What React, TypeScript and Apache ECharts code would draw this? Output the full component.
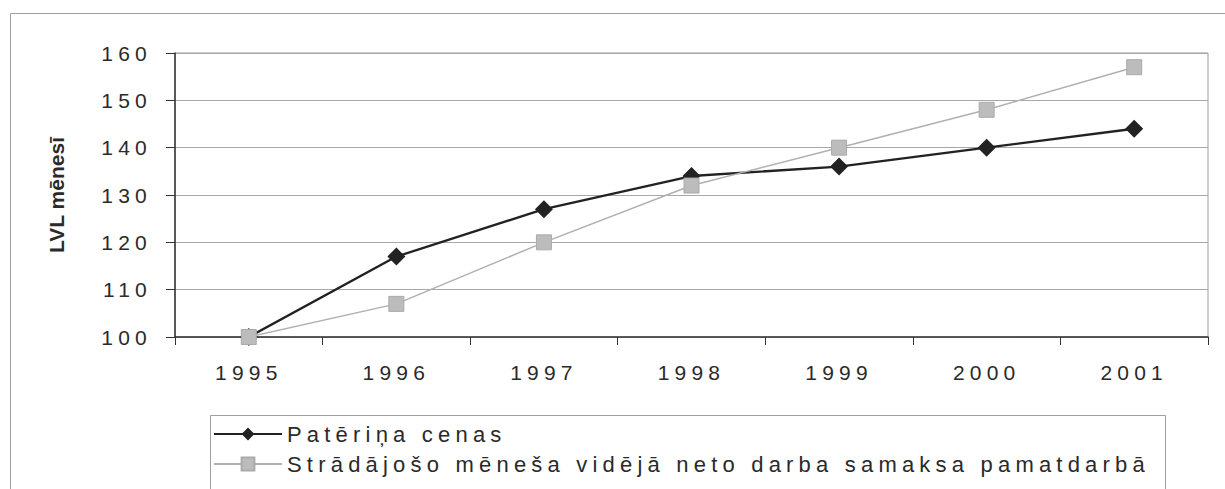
import React, { useEffect, useRef } from "react";
import * as echarts from "echarts";

const years = ["1995", "1996", "1997", "1998", "1999", "2000", "2001"];
const consumerPrices = [100, 117, 127, 134, 136, 140, 144];
const netWages = [100, 107, 120, 132, 140, 148, 157];
const seriesNames = [
  "Patēriņa cenas",
  "Strādājošo mēneša vidējā neto darba samaksa pamatdarbā",
];
const yAxisTitle = "LVL mēnesī";

const FONT = "'Liberation Sans', Arial, sans-serif";

export default function App() {
  const ref = useRef<HTMLDivElement>(null);
  useEffect(() => {
    if (!ref.current) return;
    const chart = echarts.init(ref.current, undefined, { renderer: "svg" });
    chart.setOption({
      animation: false,
      backgroundColor: "#fff",
      textStyle: { fontFamily: FONT },
      grid: {
        left: 175,
        right: 17,
        top: 53,
        bottom: 152,
        show: true,
        borderColor: "#9a9a9a",
        borderWidth: 1,
      },
      xAxis: {
        type: "category",
        data: years,
        boundaryGap: true,
        axisLine: { lineStyle: { color: "#333", width: 1.5 } },
        axisTick: { show: true, length: 8, lineStyle: { color: "#333" } },
        axisLabel: { color: "#2a2a2a", fontSize: 21, fontFamily: FONT, margin: 25 },
      },
      yAxis: {
        type: "value",
        min: 100,
        max: 160,
        interval: 10,
        name: yAxisTitle,
        nameLocation: "middle",
        nameRotate: 90,
        nameGap: 108,
        nameTextStyle: {
          fontWeight: "bold",
          fontSize: 21,
          color: "#2a2a2a",
          fontFamily: FONT,
        },
        axisLine: { show: true, lineStyle: { color: "#333", width: 1.5 } },
        axisTick: { show: true, length: 9, lineStyle: { color: "#333" } },
        axisLabel: { color: "#2a2a2a", fontSize: 21, fontFamily: FONT, margin: 23 },
        splitLine: { lineStyle: { color: "#a8a8a8", width: 1 } },
      },
      legend: {
        orient: "vertical",
        left: 208,
        top: 418,
        itemWidth: 68,
        itemHeight: 16,
        itemGap: 8,
        textStyle: { fontSize: 22, color: "#2a2a2a", fontFamily: FONT },
        data: seriesNames,
      },
      graphic: [
        {
          type: "rect",
          left: 8,
          top: 11,
          shape: { width: 1400, height: 700 },
          style: { fill: "none", stroke: "#a0a0a0", lineWidth: 1 },
          z: -1,
          silent: true,
        },
        {
          type: "rect",
          left: 208,
          top: 413,
          shape: { width: 955, height: 100 },
          style: { fill: "none", stroke: "#a0a0a0", lineWidth: 1 },
          silent: true,
        },
      ],
      series: [
        {
          name: seriesNames[0],
          type: "line",
          data: consumerPrices,
          symbol: "diamond",
          symbolSize: 18,
          z: 2,
          lineStyle: { color: "#222", width: 2.4 },
          itemStyle: { color: "#222" },
        },
        {
          name: seriesNames[1],
          type: "line",
          data: netWages,
          symbol: "rect",
          symbolSize: 15,
          z: 3,
          lineStyle: { color: "#b0b0b0", width: 1.5 },
          itemStyle: { color: "#bcbcbc", borderColor: "#aaaaaa", borderWidth: 1 },
        },
      ],
    });
    return () => chart.dispose();
  }, []);
  return (
    <>
      <style>{`
        body { margin: 0; }
        .chartbox text { letter-spacing: 5.2px; }
        .chartbox text[style*="bold"] { letter-spacing: 0; }
      `}</style>
      <div className="chartbox" ref={ref} style={{ width: 1225, height: 489 }} />
    </>
  );
}
